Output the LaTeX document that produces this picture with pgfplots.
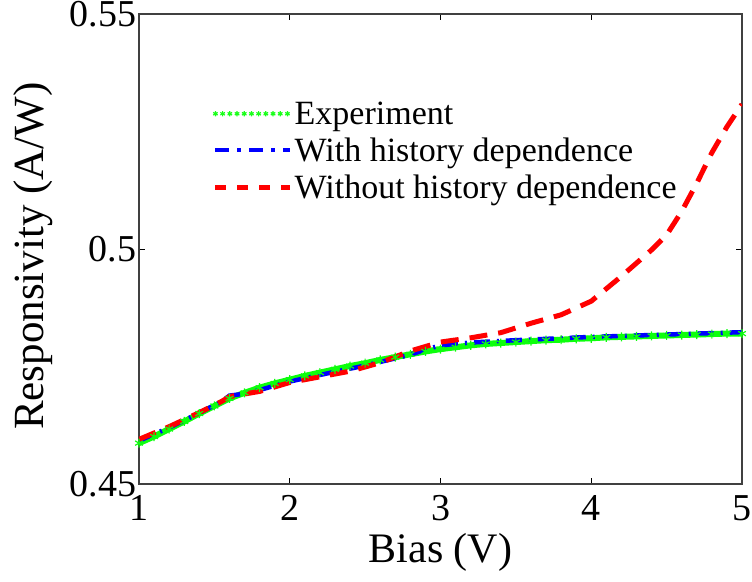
\documentclass[border=0pt]{standalone}
\usepackage{pgfplots}
\pgfplotsset{compat=1.18}
\usepackage{fontspec}
\setmainfont{Liberation Serif}
\newfontfamily\tms{Liberation Serif}
\begin{document}
\begin{tikzpicture}
\useasboundingbox (-139pt,-97pt) rectangle (613pt,484pt);
\begin{axis}[
  at={(0pt,0pt)}, anchor=south west,
  scale only axis,
  width=603pt, height=470pt,
  xmin=1, xmax=5, ymin=0.45, ymax=0.55,
  xtick={1,2,3,4,5}, ytick={0.45,0.5,0.55},
  xticklabels={1,2,3,4,5},
  yticklabels={0.45,0.5,0.55},
  tick align=inside, major tick length=6pt,
  tick style={black, line width=0.8pt},
  axis line style={draw=black!75, line width=1.2pt},
  every tick label/.append style={font=\tms\fontsize{38}{44}\selectfont},
  xticklabel style={yshift=-8pt},
  yticklabel style={xshift=1pt},
  /pgf/number format/assume math mode=true,
  xlabel={Bias (V)}, ylabel={Responsivity (A/W)},
  xlabel style={font=\tms\fontsize{42}{48}\selectfont, at={(axis description cs:0.5,-0.168)}, anchor=base},
  ylabel style={font=\tms\fontsize{43}{48}\selectfont, at={(axis description cs:-0.159,0.485)}, anchor=base},
  legend style={draw=none, fill=none, at={(axis description cs:0.1227,0.818)}, anchor=north west,
    font=\tms\fontsize{34}{38}\selectfont, row sep=8pt, inner sep=0pt,
    /tikz/every even column/.append style={column sep=18pt}},
  legend cell align=left,
]
\addplot[green!95!white, line width=6pt, mark=asterisk, mark size=4.5pt,
  mark options={line width=1.2pt, solid},
  legend image code/.code={
    \foreach \i in {0,...,10} {\draw[green!90!white, line width=0.7pt] plot[mark=asterisk, mark size=2.6pt] coordinates {({\i*7.2pt},0pt)};}
  }] coordinates {
(1.0,0.4587)(1.1,0.4601)(1.2,0.4617)(1.3,0.4633)(1.4,0.4650)(1.5,0.4666)(1.6,0.4682)(1.7,0.4694)
(1.8,0.4705)(1.9,0.4714)(2.0,0.4722)(2.1,0.4730)(2.2,0.4737)(2.3,0.4744)(2.4,0.4751)(2.5,0.4757)
(2.6,0.4764)(2.7,0.4770)(2.8,0.4776)(2.9,0.4782)(3.0,0.4787)(3.1,0.4791)(3.2,0.4795)(3.3,0.4798)
(3.4,0.4800)(3.5,0.4802)(3.6,0.4804)(3.7,0.4806)(3.8,0.4807)(3.9,0.4809)(4.0,0.4810)(4.1,0.4812)
(4.2,0.4813)(4.3,0.4814)(4.4,0.4815)(4.5,0.4816)(4.6,0.4817)(4.7,0.4818)(4.8,0.4819)(4.9,0.4820)(5.0,0.4820)
};
\addlegendentry{Experiment}
\addplot[blue, line width=4.5pt, dash pattern=on 16pt off 7pt on 2pt off 7pt,
  legend image code/.code={\draw[blue, line width=4pt, dash pattern=on 14pt off 8pt on 4pt off 8pt] (0pt,0pt) -- (75pt,0pt);}] coordinates {
(1.0,0.4592)(1.2,0.4620)(1.4,0.4651)(1.55,0.4676)(1.6,0.4688)(1.7,0.4692)(1.8,0.4700)
(2.0,0.4718)(2.2,0.4732)(2.5,0.4752)(2.8,0.4775)(2.9,0.4786)(3.0,0.4795)(3.2,0.4801)
(3.5,0.4806)(4.0,0.4813)(4.5,0.4818)(5.0,0.4823)
};
\addlegendentry{With history dependence}
\addplot[red, line width=5pt, dash pattern=on 18pt off 11pt,
  legend image code/.code={\draw[red, line width=4.5pt, dash pattern=on 11pt off 11pt] (0pt,0pt) -- (75pt,0pt);}] coordinates {
(1.0,0.4595)(1.2,0.4622)(1.4,0.4652)(1.55,0.4676)(1.6,0.4686)(1.8,0.4697)(2.0,0.4716)
(2.2,0.4728)(2.4,0.4740)(2.6,0.4758)(2.8,0.4783)(3.0,0.4802)(3.2,0.4811)(3.4,0.4822)
(3.6,0.4842)(3.8,0.4860)(4.0,0.4889)(4.2,0.4942)(4.4,0.4998)(4.5,0.5030)(4.6,0.5080)
(4.7,0.5140)(4.8,0.5205)(4.9,0.5260)(5.0,0.5308)
};
\addlegendentry{Without history dependence}
\end{axis}
\end{tikzpicture}
\end{document}
